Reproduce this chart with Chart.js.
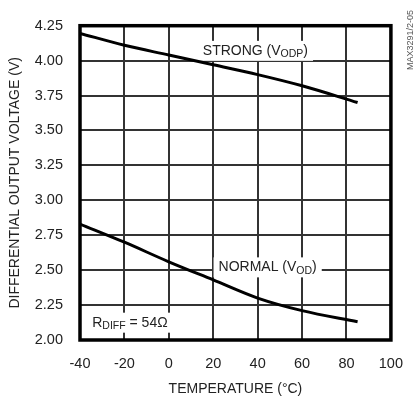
<!DOCTYPE html>
<html>
<head>
<meta charset="utf-8">
<script src="https://cdn.jsdelivr.net/npm/chart.js@4.4.1/dist/chart.umd.min.js"></script>
<style>
  html, body { margin: 0; padding: 0; background: #fff; }
  #wrap { width: 418px; height: 398px; }
</style>
</head>
<body>
<div id="wrap"><canvas id="chart" width="418" height="398"></canvas></div>
<script>
// 曲线数据
const temps = [-40, -20, 0, 20, 40, 60, 85];
const strongVolts = [4.195, 4.11, 4.04, 3.97, 3.90, 3.82, 3.70];
const normalVolts = [2.83, 2.70, 2.56, 2.43, 2.30, 2.21, 2.13];

const xTicks = [-40, -20, 0, 20, 40, 60, 80, 100];
const yTicks = [2.00, 2.25, 2.50, 2.75, 3.00, 3.25, 3.50, 3.75, 4.00, 4.25];

// 标注文字：[主文字, 下标, 后缀, x, y, 对齐]
const notes = [
  ['STRONG (V', 'ODP', ')', 39, 4.07, 'center'],
  ['NORMAL (V', 'OD', ')', 44.5, 2.52, 'center'],
  ['R', 'DIFF', ' = 54\u03A9', -34.5, 2.124, 'left']
];

const FONT = "'Liberation Sans', Arial, sans-serif";

function toPoints(ys) {
  return temps.map((t, i) => ({ x: t, y: ys[i] }));
}

const notePlugin = {
  id: 'notes',
  beforeDatasetsDraw(chart) {
    const ctx = chart.ctx;
    const xs = chart.scales.x, ys = chart.scales.y;
    const a = chart.chartArea;
    ctx.save();
    // 网格线
    ctx.fillStyle = '#333';
    xTicks.forEach(v => {
      const px = Math.round(xs.getPixelForValue(v));
      ctx.fillRect(px - 1, a.top, 2, a.bottom - a.top);
    });
    yTicks.forEach(v => {
      const py = Math.round(ys.getPixelForValue(v));
      ctx.fillRect(a.left, py - 1, a.right - a.left, 2);
    });

    notes.forEach(n => {
      const [main, sub, tail, tx, ty, align] = n;
      ctx.font = '14px ' + FONT;
      const w1 = ctx.measureText(main).width;
      const w3 = ctx.measureText(tail).width;
      ctx.font = '10.5px ' + FONT;
      const w2 = ctx.measureText(sub).width;
      const total = w1 + w2 + w3;
      let px = xs.getPixelForValue(tx);
      const py = ys.getPixelForValue(ty);
      if (align === 'center') px -= total / 2;
      // 白底遮住网格线
      ctx.fillStyle = '#fff';
      ctx.fillRect(px - 5, py - 10, total + 10, 20);
      ctx.fillStyle = '#222';
      ctx.textBaseline = 'middle';
      ctx.textAlign = 'left';
      ctx.font = '14px ' + FONT;
      ctx.fillText(main, px, py);
      ctx.font = '10.5px ' + FONT;
      ctx.fillText(sub, px + w1, py + 3.5);
      ctx.font = '14px ' + FONT;
      ctx.fillText(tail, px + w1 + w2, py);
    });
    ctx.restore();
  },
  afterDatasetsDraw(chart) {
    const ctx = chart.ctx;
    const a = chart.chartArea;
    ctx.save();
    ctx.strokeStyle = '#000';
    ctx.lineWidth = 3.5;
    ctx.strokeRect(a.left, a.top, a.right - a.left, a.bottom - a.top);
    // 右侧图号
    ctx.translate(411, 40);
    ctx.rotate(-Math.PI / 2);
    ctx.font = '9px ' + FONT;
    ctx.fillStyle = '#555';
    ctx.textAlign = 'center';
    ctx.textBaseline = 'middle';
    ctx.fillText('MAX3291/2-05', 0, 0);
    ctx.restore();
  }
};

const lineStyle = {
  borderColor: '#000',
  borderWidth: 3,
  pointRadius: 0,
  fill: false,
  cubicInterpolationMode: 'monotone'
};

new Chart(document.getElementById('chart').getContext('2d'), {
  type: 'line',
  data: {
    datasets: [
      Object.assign({ label: 'STRONG (VODP)', data: toPoints(strongVolts) }, lineStyle),
      Object.assign({ label: 'NORMAL (VOD)', data: toPoints(normalVolts) }, lineStyle)
    ]
  },
  options: {
    responsive: false,
    animation: false,
    layout: { padding: { left: 0, right: 14, top: 15, bottom: 0 } },
    plugins: {
      legend: { display: false },
      tooltip: { enabled: false }
    },
    scales: {
      x: {
        type: 'linear',
        min: -40,
        max: 100,
        afterBuildTicks: s => { s.ticks = xTicks.map(v => ({ value: v })); },
        afterFit: s => { s.height = 58; },
        grid: { display: false, drawTicks: false },
        border: { display: false },
        ticks: {
          color: '#222',
          padding: 15,
          font: { family: FONT, size: 14.5 },
          maxRotation: 0
        },
        title: {
          display: true,
          text: 'TEMPERATURE (\u00B0C)',
          color: '#222',
          font: { family: FONT, size: 14 },
          padding: { top: 6, bottom: 0 }
        }
      },
      y: {
        type: 'linear',
        min: 2.0,
        max: 4.25,
        afterBuildTicks: s => { s.ticks = yTicks.map(v => ({ value: v })); },
        afterFit: s => { s.width = 80; },
        grid: { display: false, drawTicks: false },
        border: { display: false },
        ticks: {
          color: '#222',
          padding: 17,
          font: { family: FONT, size: 14.5 },
          callback: v => v.toFixed(2)
        },
        title: {
          display: true,
          text: 'DIFFERENTIAL OUTPUT VOLTAGE (V)',
          color: '#222',
          font: { family: FONT, size: 14 },
          padding: { top: 7, bottom: 4 }
        }
      }
    }
  },
  plugins: [notePlugin]
});
</script>
</body>
</html>
